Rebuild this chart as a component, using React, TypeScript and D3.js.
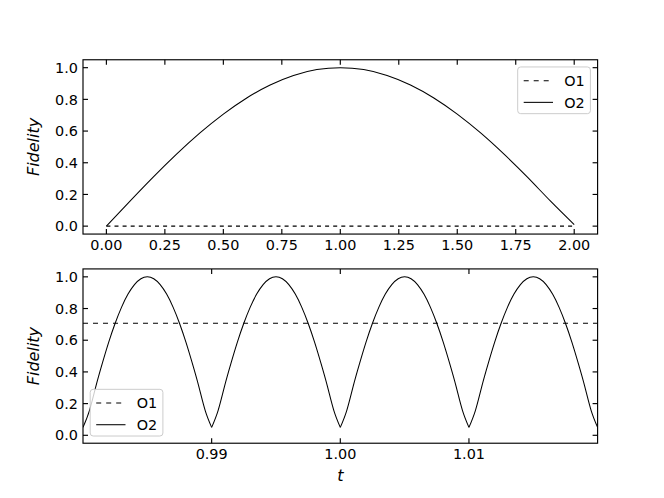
import React from "react";
import * as d3 from "d3";

// ---- data ----
const topT = [0, 0.1, 0.2, 0.3, 0.4, 0.5, 0.6, 0.7, 0.8, 0.9, 1.0, 1.1, 1.2, 1.3, 1.4, 1.5, 1.6, 1.7, 1.8, 1.9, 2.0];
const topO2 = [0, 0.156, 0.309, 0.454, 0.588, 0.707, 0.809, 0.891, 0.951, 0.988, 1.0, 0.988, 0.951, 0.891, 0.809, 0.707, 0.588, 0.454, 0.309, 0.156, 0.01];
const topO1 = [0, 0, 0, 0, 0, 0, 0, 0, 0, 0, 0, 0, 0, 0, 0, 0, 0, 0, 0, 0, 0];

const bottomStart = 0.98;
const bottomStep = 0.0005;
const bottomO2 = [
  0.05, 0.156, 0.309, 0.454, 0.588, 0.707, 0.809, 0.891, 0.951, 0.988,
  1.0, 0.988, 0.951, 0.891, 0.809, 0.707, 0.588, 0.454, 0.309, 0.156,
  0.05, 0.156, 0.309, 0.454, 0.588, 0.707, 0.809, 0.891, 0.951, 0.988,
  1.0, 0.988, 0.951, 0.891, 0.809, 0.707, 0.588, 0.454, 0.309, 0.156,
  0.05, 0.156, 0.309, 0.454, 0.588, 0.707, 0.809, 0.891, 0.951, 0.988,
  1.0, 0.988, 0.951, 0.891, 0.809, 0.707, 0.588, 0.454, 0.309, 0.156,
  0.05, 0.156, 0.309, 0.454, 0.588, 0.707, 0.809, 0.891, 0.951, 0.988,
  1.0, 0.988, 0.951, 0.891, 0.809, 0.707, 0.588, 0.454, 0.309, 0.156,
  0.05,
];
const bottomO1Value = 0.707;
// indices of the cusps (minima) in bottomO2
const bottomCusps = [0, 20, 40, 60, 80];

const topXTicks = [0, 0.25, 0.5, 0.75, 1.0, 1.25, 1.5, 1.75, 2.0];
const bottomXTicks = [0.99, 1.0, 1.01];
const yTicks = [0, 0.2, 0.4, 0.6, 0.8, 1.0];
const legendLabels = ["O1", "O2"];
const yLabel = "Fidelity";
const xLabel = "t";

// ---- layout ----
const W = 664;
const H = 498;
const L = 83;
const R = 597.6;
const panels = [
  { top: 59.76, bottom: 234.06 },
  { top: 268.92, bottom: 443.22 },
];
const FONT = "DejaVu Sans, sans-serif";
const FS = 14.4;
const TICK = 5;
const TW = 1.15;
const LW = 1.05;
const DASH_TOP = "4,4.1";
const DASH_BOTTOM = "5,5";

type Pt = [number, number];

function Axes({
  x,
  y,
  top,
  bottom,
  xTicks,
  xFmt,
}: {
  x: d3.ScaleLinear<number, number>;
  y: d3.ScaleLinear<number, number>;
  top: number;
  bottom: number;
  xTicks: number[];
  xFmt: (v: number) => string;
}) {
  const yFmt = d3.format(".1f");
  return (
    <g>
      {xTicks.map((t, i) => (
        <g key={"x" + i}>
          <line x1={x(t)} x2={x(t)} y1={bottom} y2={bottom - TICK} stroke="#000" strokeWidth={TW} />
          <line x1={x(t)} x2={x(t)} y1={top} y2={top + TICK} stroke="#000" strokeWidth={TW} />
          <text x={x(t)} y={bottom + TICK + 11.2} textAnchor="middle" fontSize={FS} fontFamily={FONT} fill="#000">
            {xFmt(t)}
          </text>
        </g>
      ))}
      {yTicks.map((t, i) => (
        <g key={"y" + i}>
          <line x1={L} x2={L + TICK} y1={y(t)} y2={y(t)} stroke="#000" strokeWidth={TW} />
          <line x1={R} x2={R - TICK} y1={y(t)} y2={y(t)} stroke="#000" strokeWidth={TW} />
          <text x={L - 5} y={y(t) + 5.2} textAnchor="end" fontSize={FS} fontFamily={FONT} fill="#000">
            {yFmt(t)}
          </text>
        </g>
      ))}
      <rect x={L} y={top} width={R - L} height={bottom - top} fill="none" stroke="#000" strokeWidth={1.15} />
      <text
        transform={`translate(${L - 44},${(top + bottom) / 2}) rotate(-90)`}
        textAnchor="middle"
        fontSize={16}
        fontStyle="italic"
        fontFamily={FONT}
        fill="#000"
      >
        {yLabel}
      </text>
    </g>
  );
}

function Legend({ x0, y0 }: { x0: number; y0: number }) {
  const w = 72.7;
  const h = 46.7;
  return (
    <g>
      <rect x={x0} y={y0} width={w} height={h} rx={3} ry={3} fill="#fff" fillOpacity={0.8} stroke="#cccccc" strokeWidth={1} />
      {legendLabels.map((lab, i) => {
        const cy = y0 + 13.7 + i * 21.7;
        return (
          <g key={lab}>
            <line
              x1={x0 + 6}
              x2={x0 + 35.3}
              y1={cy}
              y2={cy}
              stroke="#000"
              strokeWidth={LW}
              strokeDasharray={i === 0 ? DASH_BOTTOM : undefined}
            />
            <text x={x0 + 46.5} y={cy + 5.2} fontSize={FS} fontFamily={FONT} fill="#000">
              {lab}
            </text>
          </g>
        );
      })}
    </g>
  );
}

export default function App() {
  const p1 = panels[0];
  const p2 = panels[1];
  const x1 = d3.scaleLinear().domain([-0.1, 2.1]).range([L, R]);
  const y1 = d3.scaleLinear().domain([-0.05, 1.05]).range([p1.bottom, p1.top]);
  const x2 = d3.scaleLinear().domain([0.98, 1.02]).range([L, R]);
  const y2 = d3.scaleLinear().domain([-0.05, 1.05]).range([p2.bottom, p2.top]);

  const topO2Pts: Pt[] = topT.map((t, i) => [t, topO2[i]]);
  const topO1Pts: Pt[] = topT.map((t, i) => [t, topO1[i]]);
  const bottomT = bottomO2.map((_, i) => bottomStart + i * bottomStep);
  const bottomO2Pts: Pt[] = bottomT.map((t, i) => [t, bottomO2[i]]);
  const bottomArches: Pt[][] = bottomCusps.slice(0, -1).map((c, k) => bottomO2Pts.slice(c, bottomCusps[k + 1] + 1));
  const bottomO1Pts: Pt[] = [
    [bottomT[0], bottomO1Value],
    [bottomT[bottomT.length - 1], bottomO1Value],
  ];

  const lineTopSmooth = d3
    .line<Pt>()
    .x((d) => x1(d[0]))
    .y((d) => y1(d[1]))
    .curve(d3.curveNatural);
  const lineTop = d3
    .line<Pt>()
    .x((d) => x1(d[0]))
    .y((d) => y1(d[1]));
  const lineBottom = d3
    .line<Pt>()
    .x((d) => x2(d[0]))
    .y((d) => y2(d[1]));
  const lineBottomSmooth = d3
    .line<Pt>()
    .x((d) => x2(d[0]))
    .y((d) => y2(d[1]))
    .curve(d3.curveNatural);

  const fmt2 = d3.format(".2f");

  return (
    <svg width={W} height={H} style={{ display: "block", margin: "-8px" }} xmlns="http://www.w3.org/2000/svg">
      <rect x={0} y={0} width={W} height={H} fill="#fff" />
      <defs>
        <clipPath id="clip2">
          <rect x={L} y={p2.top} width={R - L} height={p2.bottom - p2.top} />
        </clipPath>
      </defs>
      {/* top panel */}
      <path d={lineTop(topO1Pts) || ""} fill="none" stroke="#000" strokeWidth={LW} strokeDasharray={DASH_TOP} />
      <path d={lineTopSmooth(topO2Pts) || ""} fill="none" stroke="#000" strokeWidth={LW} />
      <Axes x={x1} y={y1} top={p1.top} bottom={p1.bottom} xTicks={topXTicks} xFmt={fmt2} />
      <Legend x0={R - 7.2 - 72.7} y0={p1.top + 7.2} />

      {/* bottom panel */}
      <g clipPath="url(#clip2)">
        <path d={lineBottom(bottomO1Pts) || ""} fill="none" stroke="#000" strokeWidth={LW} strokeDasharray={DASH_BOTTOM} />
        {bottomArches.map((arch, i) => (
          <path key={i} d={lineBottomSmooth(arch) || ""} fill="none" stroke="#000" strokeWidth={LW} />
        ))}
      </g>
      <Axes x={x2} y={y2} top={p2.top} bottom={p2.bottom} xTicks={bottomXTicks} xFmt={fmt2} />
      <Legend x0={L + 7.2} y0={p2.bottom - 7.2 - 46.7} />
      <text x={(L + R) / 2} y={481} textAnchor="middle" fontSize={16} fontStyle="italic" fontFamily={FONT} fill="#000">
        {xLabel}
      </text>
    </svg>
  );
}
